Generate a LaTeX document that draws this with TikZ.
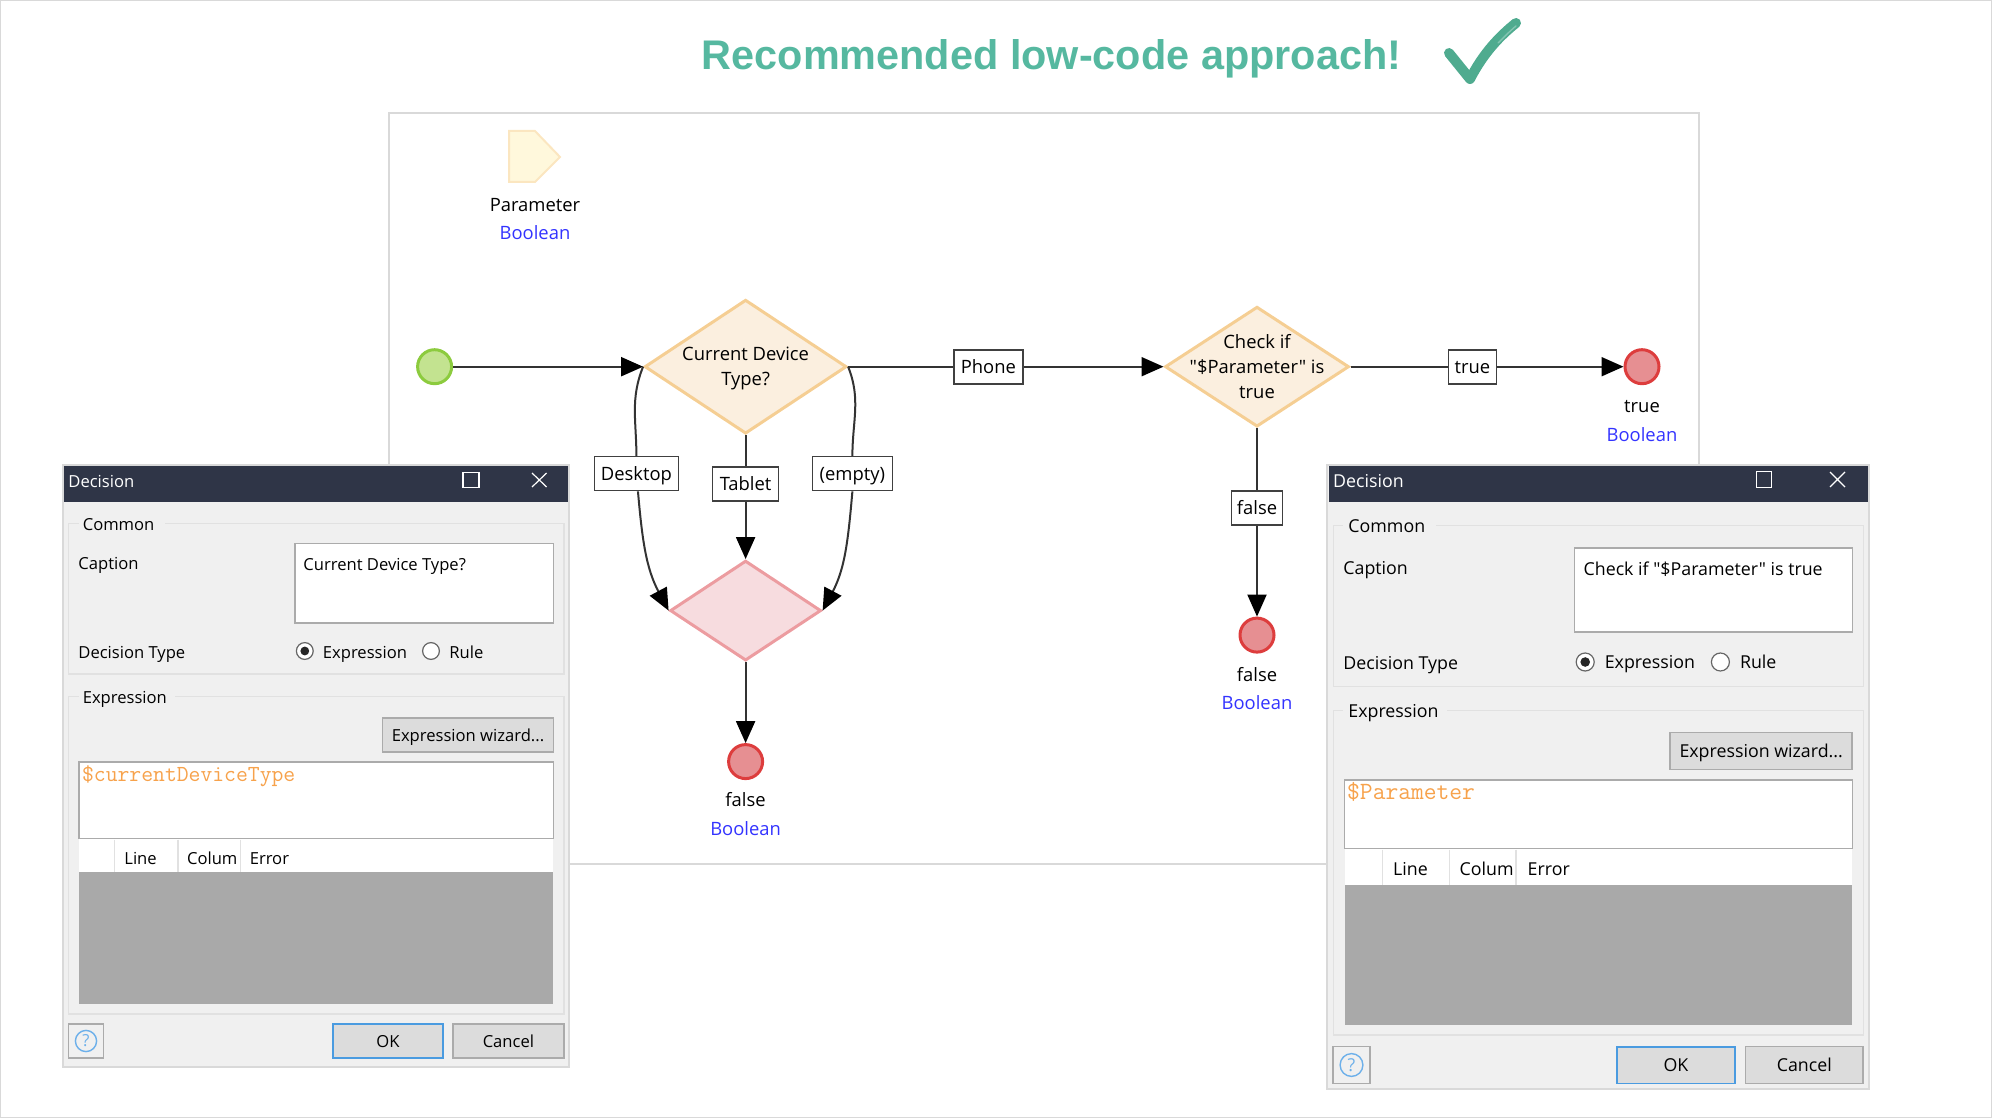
\documentclass[tikz,border=0pt]{standalone}
\usepackage{fontspec}
\setmainfont{Open Sans}[Ligatures=TeXOff]
\newfontfamily\titlefont{Liberation Sans}
\usepackage{xcolor}
\usetikzlibrary{positioning,arrows.meta,calc,shapes.geometric}

\definecolor{edgegray}{HTML}{D9D9D9}
\definecolor{titlegreen}{HTML}{56B8A0}
\definecolor{checkgreen}{HTML}{4FAB8F}
\definecolor{barblue}{HTML}{2F3547}
\definecolor{panelgray}{HTML}{F0F0F0}
\definecolor{groupgray}{HTML}{E1E1E1}
\definecolor{inputgray}{HTML}{ABABAB}
\definecolor{tablegray}{HTML}{A9A9A9}
\definecolor{btngray}{HTML}{DCDCDC}
\definecolor{okblue}{HTML}{4A9BE0}
\definecolor{helpblue}{HTML}{6DB0EA}
\definecolor{codeorange}{HTML}{F7A24B}
\definecolor{typeblue}{HTML}{3333FF}
\definecolor{decfill}{HTML}{FBEFDF}
\definecolor{decedge}{HTML}{F5CE93}
\definecolor{mergefill}{HTML}{F7DCDF}
\definecolor{mergeedge}{HTML}{EC9CA0}
\definecolor{startfill}{HTML}{C3E390}
\definecolor{startedge}{HTML}{8CCB3E}
\definecolor{endfill}{HTML}{E68F92}
\definecolor{endedge}{HTML}{DD3D3D}
\definecolor{parfill}{HTML}{FFF8DC}
\definecolor{paredge}{HTML}{FBE6C0}

\begin{document}
\begin{tikzpicture}[x=0.5pt, y=-0.5pt, on grid,
  flowfont/.style={font=\fontsize{9.2}{12.6}\selectfont},
  dec/.style={diamond, draw=decedge, fill=decfill, line width=1.5pt, inner sep=0pt, minimum width=101pt, minimum height=67pt},
  mergebox/.style={diamond, draw=mergeedge, fill=mergefill, line width=1.5pt, inner sep=0pt, minimum width=75.5pt, minimum height=50pt},
  startev/.style={circle, draw=startedge, fill=startfill, line width=1.5pt, inner sep=0pt, minimum size=17pt},
  endev/.style={circle, draw=endedge, fill=endfill, line width=1.5pt, inner sep=0pt, minimum size=17pt},
  lbl/.style={draw=black!75, fill=white, line width=0.8pt, flowfont, inner sep=0pt, minimum height=17pt, text height=1.5ex, text depth=.25ex},
  captxt/.style={flowfont, inner sep=0pt, text height=1.5ex, text depth=.25ex},
  typ/.style={captxt, text=typeblue},
  dectxt/.style={flowfont, inner sep=0pt, align=center},
  arr/.style={draw=black!80, line width=1pt, -{Triangle[length=11pt, width=9.5pt, black]}},
  lin/.style={draw=black!80, line width=1pt},
  tx/.style={anchor=west, inner sep=0pt, text height=1.5ex, text depth=.25ex},
  lfont/.style={font=\fontsize{8.3}{10}\selectfont},
  rfont/.style={font=\fontsize{8.9}{10}\selectfont},
  groupbox/.style={draw=groupgray, line width=0.7pt},
  inputbox/.style={draw=inputgray, fill=white, line width=0.8pt},
  btn/.style={draw=inputgray, fill=btngray, line width=0.8pt, inner sep=0pt, text height=1.5ex, text depth=.25ex},
  okbtn/.style={btn, draw=okblue, line width=0.9pt},
  radio/.style={circle, draw=black!60, fill=white, line width=0.6pt, inner sep=0pt, minimum size=8.4pt},
  radiodot/.style={circle, fill=black!85, inner sep=0pt, minimum size=4.4pt},
  helpq/.style={circle, draw=helpblue, text=helpblue, line width=0.7pt, inner sep=0pt, minimum size=10.6pt},
  colsep/.style={draw=groupgray, line width=0.7pt},
  ctl/.style={draw=white, line width=0.6pt}]

% page and canvas
\useasboundingbox (0,0) rectangle (1992,1118);
\draw[edgegray, line width=1.2pt] (0,0) rectangle (1992,1118);
\draw[edgegray, line width=1pt] (389,113) rectangle (1699,864);

% heading
\node[inner sep=0pt, font=\titlefont\bfseries\fontsize{20.7}{24}\selectfont, text=titlegreen] (heading) at (1051.5,58.5) {Recommended low-code approach!};
\draw[checkgreen, line width=5pt, line cap=round, line join=round] (1449,53) -- (1470,79) .. controls (1484,52) and (1500,36) .. (1516,23);
\draw[checkgreen!70!white, line width=0.7pt, line cap=round] (1498,43) .. controls (1504,37) and (1510,31) .. (1516,26);

% parameter
\draw[draw=paredge, fill=parfill, line width=1pt] (509,131) -- (535,131) -- (560,157) -- (535,182) -- (509,182) -- cycle;
\node[captxt] (parname) at (535,204.5) {Parameter};
\node[typ, below=14pt of parname] (partype) {Boolean};

% flow
\node[startev] (start) at (434.6,366.7) {};
\node[dec, right=155.5pt of start] (dec1) {};
\node[dectxt, yshift=-0.8pt] (dec1txt) at (dec1) {Current Device\\Type?};
\node[lbl, minimum width=34.5pt, right=121.4pt of dec1] (lblphone) {Phone};
\node[dec, minimum width=92pt, minimum height=60pt, right=134.3pt of lblphone] (dec2) {};
\node[dectxt] (dec2txt) at (dec2) {Check if\\"\$Parameter" is\\true};
\node[lbl, minimum width=24pt, right=107.7pt of dec2] (lbltrue) {true};
\node[endev, right=84.8pt of lbltrue] (endtrue) {};
\node[captxt, below=19.6pt of endtrue] (endtruename) {true};
\node[typ, below=14.3pt of endtruename] (endtruetype) {Boolean};
\node[lbl, minimum width=33pt, below=58.6pt of dec1] (lbltablet) {Tablet};
\node[lbl, minimum width=42pt, above left=5.15pt and 54.6pt of lbltablet] (lbldesk) {Desktop};
\node[lbl, minimum width=40pt, above right=5.15pt and 53.4pt of lbltablet] (lblempty) {(empty)};
\node[mergebox, below=63.35pt of lbltablet] (mergeall) {};
\node[endev, below=75.5pt of mergeall] (endf1) {};
\node[captxt, below=19.2pt of endf1] (endf1name) {false};
\node[typ, below=14.5pt of endf1name] (endf1type) {Boolean};
\node[lbl, minimum width=25.5pt, below=70.7pt of dec2] (lblfalse) {false};
\node[endev, below=63.5pt of lblfalse] (endf2) {};
\node[captxt, below=19.8pt of endf2] (endf2name) {false};
\node[typ, below=14pt of endf2name] (endf2type) {Boolean};

\draw[arr] (start) -- (dec1.west);
\draw[lin] (dec1.east) -- (lblphone.west);
\draw[arr] (lblphone.east) -- (dec2.west);
\draw[lin] (dec2.east) -- (lbltrue.west);
\draw[arr] (lbltrue.east) -- (endtrue.west);
\draw[lin] (dec2.south) -- (lblfalse.north);
\draw[arr] (lblfalse.south) -- (endf2.north);
\draw[lin] (dec1.south) -- (lbltablet.north);
\draw[arr] (lbltablet.south) -- (mergeall.north);
\draw[lin] (dec1.west) to[out=-112, in=90] (lbldesk.north);
\draw[arr] (lbldesk.-85) to[out=-85, in=118] (mergeall.west);
\draw[lin] (dec1.east) to[out=-68, in=90] (lblempty.north);
\draw[arr] (lblempty.south) to[out=-95, in=62] (mergeall.east);
\draw[arr] (mergeall.south) -- (endf1.north);

% left dialog
\draw[draw=edgegray, fill=panelgray, line width=1pt] (62.7,465) rectangle (569,1067);
\fill[barblue] (64,466) rectangle (568,501.6);
\node[tx, lfont, text=white] (ltitle) at (68,480.5) {Decision};
\draw[ctl] (463,472.6) rectangle (479,487.3);
\draw[ctl] (532,473) -- (546.6,487) (532,487) -- (546.6,473);
\draw[groupbox] (68.6,523.4) rectangle (563.8,674);
\draw[groupbox] (68.6,696.5) rectangle (563.8,1014);
\fill[panelgray] (78.6,515) rectangle (164.7,532);
\fill[panelgray] (78.6,688) rectangle (175.3,705);
\node[tx, lfont] (lcommon) at (82.4,523.5) {Common};
\node[tx, lfont] (lcaption) at (78,563) {Caption};
\draw[inputbox] (294.8,543.5) rectangle (553.4,623);
\node[tx, lfont] (lcaptxt) at (303,564) {Current Device Type?};
\node[tx, lfont] (ltype) at (78,652) {Decision Type};
\node[radio] (lrad1) at (304.8,651) {};
\node[radiodot] (lrad1dot) at (lrad1) {};
\node[tx, lfont] (lexprad) at (322.5,651.5) {Expression};
\node[radio] (lrad2) at (431,651) {};
\node[tx, lfont] (lrule) at (449,651.5) {Rule};
\node[tx, lfont] (lexpr) at (82.4,696.5) {Expression};
\node[btn, lfont, minimum width=85.4pt, minimum height=17.2pt] (lwizard) at (468,735) {Expression wizard...};
\draw[inputbox] (79,762) rectangle (553.4,838.5);
\node[tx, font=\ttfamily\fontsize{11.5}{12}\selectfont, text=codeorange] (lcode) at (81.7,774.5) {\$currentDeviceType};
\fill[white] (79,839) rectangle (553.4,872);
\foreach \sx in {114.7,177.8,240.4} \draw[colsep] (\sx,839.5) -- (\sx,872);
\node[tx, lfont] (lline) at (124,857.5) {Line};
\node[tx, lfont] (lcolum) at (186.7,857.5) {Colum};
\node[tx, lfont] (lerror) at (249.4,857.5) {Error};
\fill[tablegray] (79,872) rectangle (553.4,1003.5);
\node[btn, fill=panelgray, minimum width=17.4pt, minimum height=17.2pt] (lhelpbtn) at (86,1041) {};
\node[helpq, lfont] (lhelp) at (lhelpbtn) {?};
\node[okbtn, lfont, minimum width=55pt, minimum height=17.2pt] (lok) at (388,1041) {OK};
\node[btn, lfont, minimum width=55.4pt, minimum height=17.2pt] (lcancel) at (508.4,1041) {Cancel};

% right dialog
\draw[draw=edgegray, fill=panelgray, line width=1pt] (1327.4,465) rectangle (1868.7,1089);
\fill[barblue] (1329,466) rectangle (1868,501.9);
\node[tx, rfont, text=white] (rtitle) at (1332.8,481) {Decision};
\draw[ctl] (1756.4,471.6) rectangle (1771.6,487.3);
\draw[ctl] (1830,472) -- (1845,487) (1830,487) -- (1845,472);
\draw[groupbox] (1333.3,525.5) rectangle (1863.2,686.5);
\draw[groupbox] (1333.3,710.6) rectangle (1863.2,1035);
\fill[panelgray] (1343.4,517) rectangle (1436,534);
\fill[panelgray] (1343.4,702) rectangle (1447.4,719);
\node[tx, rfont] (rcommon) at (1348,526) {Common};
\node[tx, rfont] (rcaption) at (1343,567.8) {Caption};
\draw[inputbox] (1574.6,548) rectangle (1852.3,631.7);
\node[tx, rfont] (rcaptxt) at (1583.2,569) {Check if "\$Parameter" is true};
\node[tx, rfont] (rtype) at (1343,663) {Decision Type};
\node[radio, minimum size=9pt] (rrad1) at (1585.2,662) {};
\node[radiodot, minimum size=4.8pt] (rrad1dot) at (rrad1) {};
\node[tx, rfont] (rexprad) at (1604.4,662) {Expression};
\node[radio, minimum size=9pt] (rrad2) at (1720.4,662) {};
\node[tx, rfont] (rrule) at (1739.6,662) {Rule};
\node[tx, rfont] (rexpr) at (1348,711) {Expression};
\node[btn, rfont, minimum width=91pt, minimum height=18.4pt] (rwizard) at (1761.2,751) {Expression wizard...};
\draw[inputbox] (1344.5,780) rectangle (1852.3,848.5);
\node[tx, font=\ttfamily\fontsize{12.4}{12}\selectfont, text=codeorange] (rcode) at (1346.8,793) {\$Parameter};
\fill[white] (1344.5,849) rectangle (1852.3,885);
\foreach \sx in {1382.3,1449.2,1516.1} \draw[colsep] (\sx,849.5) -- (\sx,885);
\node[tx, rfont] (rline) at (1392.8,869) {Line};
\node[tx, rfont] (rcolum) at (1459.3,869) {Colum};
\node[tx, rfont] (rerror) at (1527.3,869) {Error};
\fill[tablegray] (1344.5,885) rectangle (1852.3,1024.7);
\node[btn, fill=panelgray, minimum width=18.5pt, minimum height=18.4pt] (rhelpbtn) at (1351.5,1065) {};
\node[helpq, rfont, minimum size=11.4pt] (rhelp) at (rhelpbtn) {?};
\node[okbtn, rfont, minimum width=59pt, minimum height=18.4pt] (rok) at (1676,1065) {OK};
\node[btn, rfont, minimum width=58.8pt, minimum height=18.4pt] (rcancel) at (1804.3,1065) {Cancel};
\end{tikzpicture}
\end{document}
